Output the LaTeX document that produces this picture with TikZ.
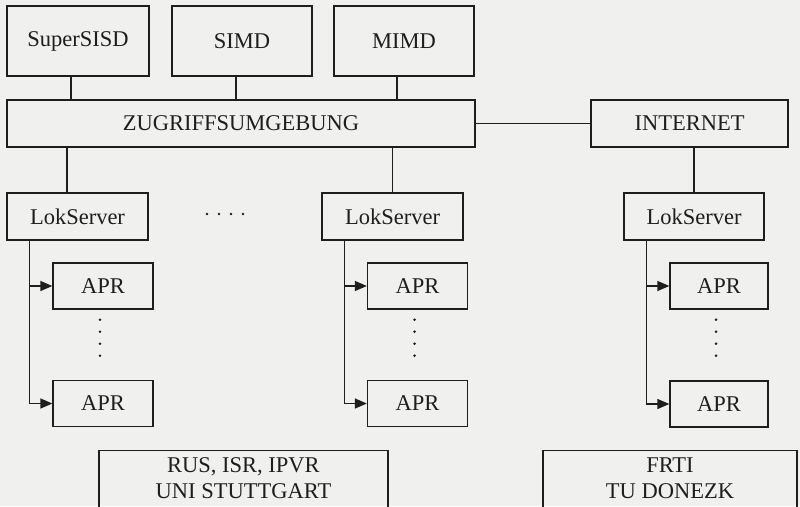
\documentclass[tikz,border=0pt]{standalone}
\usepackage{fontspec}
\setmainfont{Liberation Serif}
\usetikzlibrary{arrows.meta,calc}
\definecolor{bg}{HTML}{F0F0EE}
\definecolor{ink}{HTML}{1E1E1E}
\begin{document}
\begin{tikzpicture}[x=1pt,y=-1pt,
  box/.style={draw=ink,line width=1.3pt,inner sep=0pt,align=center,
    font=\fontsize{22.5}{26}\selectfont,text=ink},
  lbl/.style={font=\fontsize{22.5}{26}\selectfont,text=ink,align=center,inner sep=0pt},
  conn/.style={draw=ink,line width=1.3pt},
  arr/.style={conn,-{Triangle[length=12pt,width=10pt]}},
  dot/.style={fill=ink,draw=none}]
\fill[bg] (0,0) rectangle (800,506);
\useasboundingbox (0,0) rectangle (800,506);
\clip (0,0) rectangle (800,506);
% top row
\node[box,minimum width=142pt,minimum height=70pt] (s1) at (78,41) {SuperSISD};
\node[box,minimum width=140pt,minimum height=70pt] (s2) at (242,41) {SIMD};
\node[box,minimum width=140pt,minimum height=70pt] (s3) at (404,41) {MIMD};
\node[box,minimum width=468pt,minimum height=47pt] (zug) at (241,123.5) {ZUGRIFFSUMGEBUNG};
\node[box,minimum width=197pt,minimum height=47pt] (inet) at (689.5,123.5) {INTERNET};
% servers
\node[box,minimum width=141pt,minimum height=47pt] (lokL) at (77.5,216.5) {LokServer};
\node[box,minimum width=141pt,minimum height=47pt] (lokM) at (392.5,216.5) {LokServer};
\node[box,minimum width=140pt,minimum height=47pt] (lokR) at (694,216.5) {LokServer};
% APR
\node[box,minimum width=100pt,minimum height=46pt] (aL1) at (103,286) {APR};
\node[box,minimum width=100pt,minimum height=46pt] (aL2) at (103,403.5) {APR};
\node[box,minimum width=100pt,minimum height=46pt] (aM1) at (417.5,286) {APR};
\node[box,minimum width=100pt,minimum height=46pt] (aM2) at (417.5,403.5) {APR};
\node[box,minimum width=98pt,minimum height=46pt] (aR1) at (719,286) {APR};
\node[box,minimum width=98pt,minimum height=46pt] (aR2) at (719,404) {APR};
% bottom boxes
\node[box,minimum width=289pt,minimum height=100pt,anchor=north] (uni) at (243.5,450) {};
\node[lbl,anchor=base] (unit) at (243.5,498) {RUS, ISR, IPVR\\UNI STUTTGART};
\node[box,minimum width=254pt,minimum height=100pt,anchor=north] (tu) at (670,450) {};
\node[lbl,anchor=base] (tut) at (670,498) {FRTI\\TU DONEZK};
% connectors top
\draw[conn] ([xshift=-7pt]s1.south) -- ([xshift=-7pt]s1.south |- zug.north);
\draw[conn] ([xshift=-6pt]s2.south) -- ([xshift=-6pt]s2.south |- zug.north);
\draw[conn] ([xshift=-7pt]s3.south) -- ([xshift=-7pt]s3.south |- zug.north);
\draw[conn] (zug.east) -- (inet.west);
\draw[conn] ([xshift=-10.5pt]lokL.north |- zug.south) -- ([xshift=-10.5pt]lokL.north);
\draw[conn] (lokM.north |- zug.south) -- (lokM.north);
\draw[conn] (lokR.north |- inet.south) -- (lokR.north);
% trees
\foreach \s/\a/\b in {lokL/aL1/aL2, lokM/aM1/aM2, lokR/aR1/aR2}{
  \coordinate (t\s) at ($(\s.south west)+(23,0)$);
  \draw[arr] (t\s) |- (\b.west);
  \draw[arr] (t\s |- \a.west) -- (\a.west);
}
% vertical dots
\foreach \a in {aL1,aM1,aR1}{
  \foreach \k in {0,1,2,3}{
    \fill[dot] ($(\a.south)+(-3,10+12*\k)$) circle (1.4pt);
  }
}
% horizontal dots
\foreach \x in {207,219,231,243}{
  \fill[dot] (\x,214) circle (1.4pt);
}
\end{tikzpicture}
\end{document}
